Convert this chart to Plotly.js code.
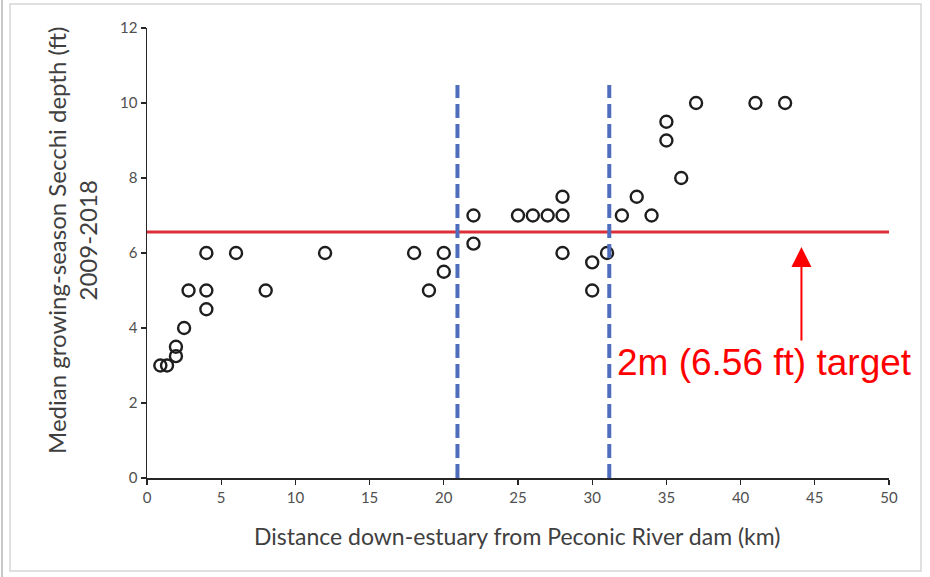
<!DOCTYPE html>
<html>
<head>
<meta charset="utf-8">
<script src="https://cdn.plot.ly/plotly-3.0.1.min.js"></script>
<style>
  html, body { margin: 0; padding: 0; background: #ffffff; }
  #chart { width: 930px; height: 577px; }
</style>
</head>
<body>
<div id="chart"></div>
<script>
// Distance down-estuary (km)
const distanceKm = [0.9, 1.35, 1.95, 1.95, 2.5, 2.8, 4, 4, 4, 6, 8, 12, 18, 19, 20, 20,
  22, 22, 25, 26, 27, 28, 28, 28, 30, 30, 31, 32, 33, 34, 35, 35, 36, 37, 41, 43];
// Median growing-season Secchi depth (ft)
const secchiFt = [3, 3, 3.25, 3.5, 4, 5, 6, 5, 4.5, 6, 5, 6, 6, 5, 6, 5.5,
  7, 6.25, 7, 7, 7, 7, 7.5, 6, 5.75, 5, 6, 7, 7.5, 7, 9.5, 9, 8, 10, 10, 10];

const targetFt = 6.56;
const zoneBoundariesKm = [20.92, 31.15];
const zoneLineTopFt = 10.48;
const xTicks = [0, 5, 10, 15, 20, 25, 30, 35, 40, 45, 50];
const yTicks = [0, 2, 4, 6, 8, 10, 12];
const xTitle = 'Distance down-estuary from Peconic River dam (km)';
const yTitle = 'Median growing-season Secchi depth (ft)<br>2009-2018';
const targetLabel = '2m (6.56 ft) target';
const arrowX = 44.1, arrowTipY = 6.16, arrowTailY = 3.63;
const labelX = 31.54, labelY = 3.07;

const axisFont = { family: 'Lato, "Open Sans", sans-serif', size: 15, color: '#505050' };
const titleFont = { family: 'Lato, "Open Sans", sans-serif', size: 23, color: '#404040' };
const yTitleFont = { family: 'Lato, "Open Sans", sans-serif', size: 24, color: '#404040' };

// frame (pixels -> paper coords)
const L = 147, R = 889, T = 28, B = 478;
const px = v => (v - L) / (R - L);
const py = v => (B - v) / (B - T);

const shapes = [
  { type: 'line', xref: 'x', yref: 'y', x0: 0, x1: 50, y0: targetFt, y1: targetFt,
    line: { color: '#dc2f38', width: 3 } },
  ...zoneBoundariesKm.map(x => ({
    type: 'line', xref: 'x', yref: 'y', x0: x, x1: x, y0: 0, y1: zoneLineTopFt,
    line: { color: '#4f6dbd', width: 4, dash: '14px,6px' } })),
  { type: 'rect', xref: 'paper', yref: 'paper', x0: px(10), x1: px(921), y0: py(4), y1: py(571),
    line: { color: '#d6d6d6', width: 1.5 }, layer: 'below' },
  { type: 'line', xref: 'paper', yref: 'paper', x0: px(2), x1: px(2), y0: py(0), y1: py(577),
    line: { color: '#c8c8c8', width: 2 }, layer: 'below' }
];

const data = [{
  type: 'scatter', mode: 'markers', x: distanceKm, y: secchiFt,
  marker: { symbol: 'circle-open', size: 12, color: '#1e1e1e', line: { width: 2.4, color: '#1e1e1e' } },
  hoverinfo: 'x+y'
}];

const layout = {
  width: 930, height: 577,
  margin: { l: L, r: 930 - R, t: T, b: 577 - B },
  paper_bgcolor: '#ffffff', plot_bgcolor: '#ffffff',
  showlegend: false,
  xaxis: {
    range: [0, 50], tickvals: xTicks, ticktext: xTicks.map(String),
    showgrid: false, zeroline: false, showline: true, linecolor: '#262626', linewidth: 1.5,
    ticks: 'outside', ticklen: 5, tickcolor: '#262626', tickwidth: 1.3,
    tickfont: axisFont
  },
  yaxis: {
    range: [0, 12], tickvals: yTicks, ticktext: yTicks.map(String),
    showgrid: false, zeroline: false, showline: true, linecolor: '#262626', linewidth: 1.5,
    ticks: 'outside', ticklen: 5, tickcolor: '#262626', tickwidth: 1.3,
    tickfont: axisFont
  },
  shapes: shapes,
  annotations: [
    { xref: 'paper', yref: 'paper', x: px(517), y: py(536), xanchor: 'center', yanchor: 'middle',
      text: xTitle, showarrow: false, font: titleFont },
    { xref: 'paper', yref: 'paper', x: px(72), y: py(241), xanchor: 'center', yanchor: 'middle',
      textangle: -90, text: yTitle, showarrow: false, align: 'center', font: yTitleFont },
    { xref: 'x', yref: 'y', x: arrowX, y: arrowTipY, ax: arrowX, ay: arrowTailY,
      axref: 'x', ayref: 'y', text: '', showarrow: true,
      arrowhead: 2, arrowsize: 2, arrowwidth: 2, arrowcolor: '#ff0000' },
    { xref: 'x', yref: 'y', x: labelX, y: labelY, xanchor: 'left', yanchor: 'middle',
      text: targetLabel, showarrow: false,
      font: { family: '"Liberation Sans", Arial, sans-serif', size: 37, color: '#ff0000' } }
  ]
};

Plotly.newPlot('chart', data, layout, { displayModeBar: false, staticPlot: true });
</script>
</body>
</html>
